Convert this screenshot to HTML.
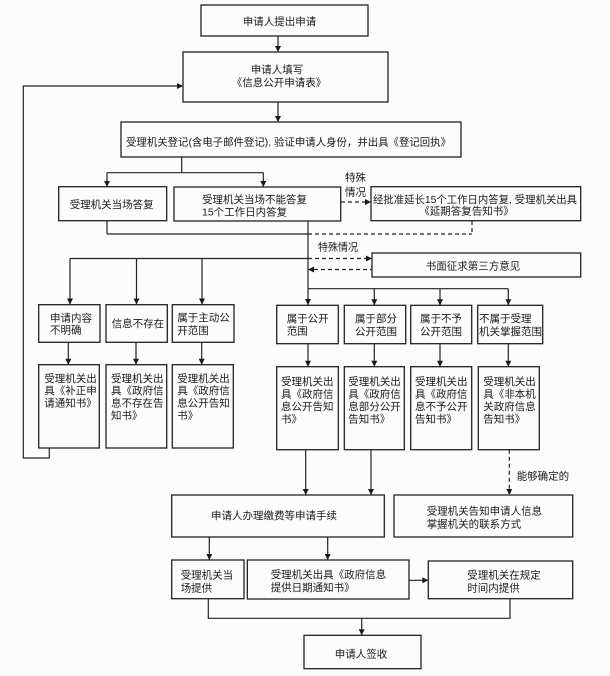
<!DOCTYPE html>
<html><head><meta charset="utf-8"><style>
html,body{margin:0;padding:0;background:#fcfcfc;}
svg{display:block;}
text{font-family:"Liberation Sans","Noto Sans CJK SC",sans-serif;font-size:10.5px;fill:#1a1a1a;}
.b{fill:none;stroke:#222;stroke-width:1.3;}
.l{fill:none;stroke:#222;stroke-width:1.2;}
.d{fill:none;stroke:#222;stroke-width:1.2;stroke-dasharray:4,3;}
.a{fill:#1a1a1a;stroke:none;}
</style></head><body>
<svg width="610" height="676" viewBox="0 0 610 676" xmlns="http://www.w3.org/2000/svg">
<!-- Box1 -->
<rect class="b" x="201" y="5" width="167" height="31"/>
<text x="279.5" y="25" text-anchor="middle">申请人提出申请</text>
<line class="l" x1="278" y1="36" x2="278" y2="52"/>
<polygon class="a" points="275,46 281,46 278,52"/>
<!-- Box2 -->
<rect class="b" x="183" y="52" width="205" height="50"/>
<text x="277" y="73" text-anchor="middle">申请人填写</text>
<text x="279" y="86" text-anchor="middle">《信息公开申请表》</text>
<line class="l" x1="278" y1="102" x2="278" y2="122"/>
<polygon class="a" points="275,116 281,116 278,122"/>
<!-- Box3 -->
<rect class="b" x="121" y="122" width="340" height="35"/>
<text x="126" y="145.5" textLength="325" lengthAdjust="spacingAndGlyphs">受理机关登记(含电子邮件登记), 验证申请人身份，并出具《登记回执》</text>
<polyline class="l" points="181.7,157 181.7,172.7"/>
<line class="l" x1="107" y1="172.7" x2="263.3" y2="172.7"/>
<line class="l" x1="107" y1="172.7" x2="107" y2="187"/>
<polygon class="a" points="104,181 110,181 107,187"/>
<line class="l" x1="263.3" y1="172.7" x2="263.3" y2="187"/>
<polygon class="a" points="260.3,181 266.3,181 263.3,187"/>
<!-- Box4 -->
<rect class="b" x="58.7" y="186.7" width="108" height="34"/>
<text x="111.7" y="208" text-anchor="middle">受理机关当场答复</text>
<!-- Box5 -->
<rect class="b" x="174" y="187" width="166.7" height="34"/>
<text x="202" y="203">受理机关当场不能答复</text>
<text x="202" y="215.7">15个工作日内答复</text>
<!-- dashed to box6 -->
<line class="d" x1="341" y1="202" x2="366" y2="202"/>
<polygon class="a" points="365,199 365,205 371,202"/>
<text x="345" y="181">特殊</text>
<text x="345" y="195.5">情况</text>
<!-- Box6 -->
<rect class="b" x="371" y="186.7" width="209.7" height="34"/>
<text x="373" y="203" textLength="204" lengthAdjust="spacingAndGlyphs">经批准延长15个工作日内答复, 受理机关出具</text>
<text x="466.5" y="214.7" text-anchor="middle">《延期答复告知书》</text>
<!-- connectors below row -->
<line class="l" x1="107" y1="220.7" x2="107" y2="234"/>
<line class="l" x1="107" y1="234" x2="308" y2="234"/>
<line class="d" x1="308" y1="234" x2="472" y2="234"/>
<line class="d" x1="472" y1="221" x2="472" y2="234"/>
<line class="l" x1="308" y1="221" x2="308" y2="305"/>
<polygon class="a" points="305,299 311,299 308,305"/>
<!-- special case -->
<text x="318" y="250.5" textLength="40" lengthAdjust="spacingAndGlyphs">特殊情况</text>
<line class="l" x1="70" y1="258.5" x2="308" y2="258.5"/>
<line class="d" x1="308" y1="258.5" x2="366" y2="258.5"/>
<polygon class="a" points="366,255.5 366,261.5 372,258.5"/>
<line class="d" x1="314" y1="269.5" x2="372" y2="269.5"/>
<polygon class="a" points="314,266.5 314,272.5 308,269.5"/>
<rect class="b" x="372" y="253" width="208.7" height="24"/>
<text x="473" y="269.3" text-anchor="middle">书面征求第三方意见</text>
<!-- left arrows -->
<line class="l" x1="70" y1="258.5" x2="70" y2="304.5"/>
<polygon class="a" points="67,298.5 73,298.5 70,304.5"/>
<line class="l" x1="136.5" y1="258.5" x2="136.5" y2="304.5"/>
<polygon class="a" points="133.5,298.5 139.5,298.5 136.5,304.5"/>
<line class="l" x1="202" y1="258.5" x2="202" y2="304.5"/>
<polygon class="a" points="199,298.5 205,298.5 202,304.5"/>
<!-- left row1 -->
<rect class="b" x="38.7" y="304.7" width="61.3" height="37.6"/>
<text x="50" y="321.3">申请内容</text>
<text x="50" y="333.7">不明确</text>
<rect class="b" x="106" y="304.7" width="61.3" height="37.6"/>
<text x="111.7" y="327">信息不存在</text>
<rect class="b" x="172.3" y="304.7" width="61.7" height="37.6"/>
<text x="177.3" y="321">属于主动公</text>
<text x="177.3" y="334">开范围</text>
<line class="l" x1="68.3" y1="342.3" x2="68.3" y2="364.7"/>
<polygon class="a" points="65.3,358.7 71.3,358.7 68.3,364.7"/>
<line class="l" x1="136" y1="342.3" x2="136" y2="364.7"/>
<polygon class="a" points="133,358.7 139,358.7 136,364.7"/>
<line class="l" x1="201.7" y1="342.3" x2="201.7" y2="364.7"/>
<polygon class="a" points="198.7,358.7 204.7,358.7 201.7,364.7"/>
<!-- left row2 -->
<rect class="b" x="38.7" y="364.7" width="60.6" height="83.3"/>
<text x="44.3" y="382">受理机关出</text>
<text x="44.3" y="394">具《补正申</text>
<text x="44.3" y="406.5">请通知书》</text>
<rect class="b" x="106" y="364.7" width="60.7" height="83.3"/>
<text x="111" y="382">受理机关出</text>
<text x="111" y="394">具《政府信</text>
<text x="111" y="406.5">息不存在告</text>
<text x="111" y="419">知书》</text>
<rect class="b" x="172.3" y="364.7" width="61" height="83.3"/>
<text x="177.3" y="382">受理机关出</text>
<text x="177.3" y="394">具《政府信</text>
<text x="177.3" y="406.5">息公开告知</text>
<text x="177.3" y="419">书》</text>
<!-- feedback loop -->
<polyline class="l" points="49.3,448 49.3,458 23.3,458 23.3,86 183,86"/>
<polygon class="a" points="177,83 177,89 183,86"/>
<!-- right branch -->
<line class="l" x1="308" y1="288.7" x2="508.3" y2="288.7"/>
<line class="l" x1="374.3" y1="288.7" x2="374.3" y2="305.3"/>
<polygon class="a" points="371.3,299.3 377.3,299.3 374.3,305.3"/>
<line class="l" x1="440" y1="288.7" x2="440" y2="305.3"/>
<polygon class="a" points="437,299.3 443,299.3 440,305.3"/>
<line class="l" x1="508.3" y1="288.7" x2="508.3" y2="305.3"/>
<polygon class="a" points="505.3,299.3 511.3,299.3 508.3,305.3"/>
<!-- right row1 -->
<rect class="b" x="276.7" y="305.3" width="61.6" height="38.4"/>
<text x="286.7" y="322">属于公开</text>
<text x="286.7" y="334.5">范围</text>
<rect class="b" x="344.3" y="305.3" width="61.4" height="38.4"/>
<text x="355" y="322">属于部分</text>
<text x="355" y="335">公开范围</text>
<rect class="b" x="410.7" y="305.3" width="61" height="38.4"/>
<text x="420" y="322">属于不予</text>
<text x="420" y="335">公开范围</text>
<rect class="b" x="477.7" y="305.3" width="65" height="38.4"/>
<text x="479" y="322">不属于受理</text>
<text x="479" y="335">机关掌握范围</text>
<line class="l" x1="308" y1="343.7" x2="308" y2="366.7"/>
<polygon class="a" points="305,360.7 311,360.7 308,366.7"/>
<line class="l" x1="374.3" y1="343.7" x2="374.3" y2="366.7"/>
<polygon class="a" points="371.3,360.7 377.3,360.7 374.3,366.7"/>
<line class="l" x1="440" y1="343.7" x2="440" y2="366.7"/>
<polygon class="a" points="437,360.7 443,360.7 440,366.7"/>
<line class="l" x1="508.3" y1="343.7" x2="508.3" y2="366.7"/>
<polygon class="a" points="505.3,360.7 511.3,360.7 508.3,366.7"/>
<!-- right row2 -->
<rect class="b" x="276.7" y="366.7" width="61.6" height="83"/>
<text x="281" y="385">受理机关出</text>
<text x="281" y="397.5">具《政府信</text>
<text x="281" y="410">息公开告知</text>
<text x="281" y="422.5">书》</text>
<rect class="b" x="344.3" y="366.7" width="60" height="83"/>
<text x="348.3" y="385">受理机关出</text>
<text x="348.3" y="397.5">具《政府信</text>
<text x="348.3" y="410">息部分公开</text>
<text x="348.3" y="422.5">告知书》</text>
<rect class="b" x="410.7" y="366.7" width="61" height="83"/>
<text x="415" y="385">受理机关出</text>
<text x="415" y="397.5">具《政府信</text>
<text x="415" y="410">息不予公开</text>
<text x="415" y="422.5">告知书》</text>
<rect class="b" x="478.3" y="366.7" width="61" height="83"/>
<text x="483.3" y="385">受理机关出</text>
<text x="483.3" y="397.5">具《非本机</text>
<text x="483.3" y="410">关政府信息</text>
<text x="483.3" y="422.5">告知书》</text>
<!-- to bottom boxes -->
<line class="l" x1="305.7" y1="449.7" x2="305.7" y2="495"/>
<polygon class="a" points="302.7,489 308.7,489 305.7,495"/>
<line class="l" x1="371" y1="449.7" x2="371" y2="495"/>
<polygon class="a" points="368,489 374,489 371,495"/>
<line class="d" x1="509.3" y1="449.7" x2="509.3" y2="489"/>
<polygon class="a" points="506.3,489 512.3,489 509.3,495"/>
<text x="516.7" y="479.3">能够确定的</text>
<rect class="b" x="171.7" y="495" width="212.6" height="42"/>
<text x="274" y="519" text-anchor="middle">申请人办理缴费等申请手续</text>
<rect class="b" x="394" y="495" width="178.7" height="42"/>
<text x="426.7" y="514.3">受理机关告知申请人信息</text>
<text x="426.7" y="527.7">掌握机关的联系方式</text>
<line class="l" x1="209.3" y1="537" x2="209.3" y2="560"/>
<polygon class="a" points="206.3,554 212.3,554 209.3,560"/>
<line class="l" x1="327.7" y1="537" x2="327.7" y2="560"/>
<polygon class="a" points="324.7,554 330.7,554 327.7,560"/>
<rect class="b" x="171.7" y="560" width="72.3" height="38.7"/>
<text x="180.7" y="578.3">受理机关当</text>
<text x="180.7" y="591.7">场提供</text>
<rect class="b" x="247.3" y="560" width="161.7" height="39"/>
<text x="270.7" y="578">受理机关出具《政府信息</text>
<text x="270.7" y="591">提供日期通知书》</text>
<line class="l" x1="409" y1="580.3" x2="428.3" y2="580.3"/>
<polygon class="a" points="422.3,577.3 422.3,583.3 428.3,580.3"/>
<rect class="b" x="428.3" y="561" width="144.4" height="37.7"/>
<text x="467.3" y="578.3">受理机关在规定</text>
<text x="467.3" y="591.7">时间内提供</text>
<polyline class="l" points="208.3,598.7 208.3,618.3 510,618.3 510,598.7"/>
<line class="l" x1="361.7" y1="618.3" x2="361.7" y2="635.3"/>
<polygon class="a" points="358.7,629.3 364.7,629.3 361.7,635.3"/>
<rect class="b" x="304" y="635.3" width="117" height="33.4"/>
<text x="361" y="657.3" text-anchor="middle">申请人签收</text>
</svg>
</body></html>
